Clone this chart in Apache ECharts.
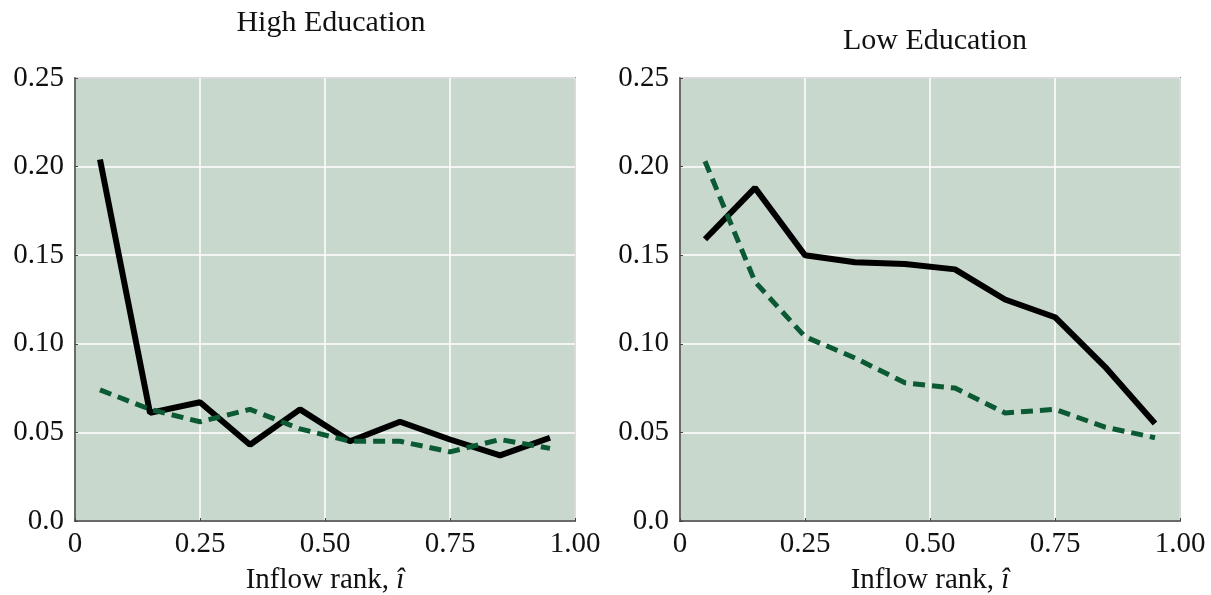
<!DOCTYPE html>
<html><head><meta charset="utf-8">
<script src="https://cdn.jsdelivr.net/npm/echarts@6/dist/echarts.min.js"></script>
<style>html,body{margin:0;padding:0;background:#fff}#c{width:1211px;height:595px}</style>
</head><body><div id="c"></div>
<script>
const ranks = [0.05,0.15,0.25,0.35,0.45,0.55,0.65,0.75,0.85,0.95];
const highSolid = [0.204,0.061,0.067,0.043,0.063,0.045,0.056,0.046,0.037,0.047];
const highDashed = [0.074,0.063,0.056,0.063,0.052,0.045,0.045,0.039,0.046,0.041];
const lowSolid = [0.159,0.188,0.150,0.146,0.145,0.142,0.125,0.115,0.087,0.055];
const lowDashed = [0.203,0.135,0.104,0.092,0.078,0.075,0.061,0.063,0.053,0.047];
const panelTitles = ['High Education','Low Education'];
const xTicks = [0,0.25,0.5,0.75,1];
const yTicks = [0,0.05,0.1,0.15,0.2,0.25];

const FONT = '"Liberation Serif", "DejaVu Serif", serif';
const pair = (xs, ys) => xs.map((x,i)=>[x, ys[i]]);
const xAxisCfg = (gi) => ({
  type:'value', gridIndex:gi, min:0, max:1, interval:0.25,
  axisLine:{show:true, lineStyle:{color:'#444', width:1.5}},
  axisTick:{show:true, inside:true, length:3, lineStyle:{color:'#444'}},
  splitLine:{show:true, lineStyle:{color:'#ffffff', width:1.5}},
  axisLabel:{color:'#111', fontFamily:FONT, fontSize:29, margin:9,
    formatter:v=> v===0 ? '0' : v.toFixed(2)},
  name:'{a|Inflow rank, }{b|î}', nameLocation:'middle', nameGap:45,
  nameTextStyle:{rich:{a:{fontFamily:FONT, fontSize:29, color:'#111'}, b:{fontFamily:FONT, fontSize:29, fontStyle:'italic', color:'#111'}}}
});
const yAxisCfg = (gi) => ({
  type:'value', gridIndex:gi, min:0, max:0.25, interval:0.05,
  axisLine:{show:true, lineStyle:{color:'#444', width:1.5}},
  axisTick:{show:true, inside:true, length:3, lineStyle:{color:'#444'}},
  splitLine:{show:true, lineStyle:{color:'#ffffff', width:1.5}},
  axisLabel:{color:'#111', fontFamily:FONT, fontSize:29, margin:11,
    formatter:v=> v===0 ? '0.0' : v.toFixed(2)}
});
const solid = (gi, data) => ({type:'line', xAxisIndex:gi, yAxisIndex:gi, data, symbol:'none',
  lineStyle:{color:'#000', width:6, type:'solid'}, z:3});
const dashed = (gi, data) => ({type:'line', xAxisIndex:gi, yAxisIndex:gi, data, symbol:'none',
  lineStyle:{color:'#0b5a34', width:5, type:[12,7]}, z:4});

const chart = echarts.init(document.getElementById('c'), null, {renderer:'canvas'});
chart.setOption({
  animation:false,
  title:[
    {text:panelTitles[0], left:326, top:3, textAlign:'center', textStyle:{fontFamily:FONT, fontSize:30, fontWeight:'normal', color:'#111'}},
    {text:panelTitles[1], left:930, top:21, textAlign:'center', textStyle:{fontFamily:FONT, fontSize:30, fontWeight:'normal', color:'#111'}}
  ],
  grid:[
    {left:75, right:636, top:78, bottom:74, outerBoundsMode:'none', containLabel:false, show:true, backgroundColor:'#c9d8cd', borderColor:'#444', borderWidth:1.5},
    {left:680, right:31, top:78, bottom:74, outerBoundsMode:'none', containLabel:false, show:true, backgroundColor:'#c9d8cd', borderColor:'#444', borderWidth:1.5}
  ],
  xAxis:[xAxisCfg(0), xAxisCfg(1)],
  yAxis:[yAxisCfg(0), yAxisCfg(1)],
  series:[
    solid(0, pair(ranks, highSolid)), dashed(0, pair(ranks, highDashed)),
    solid(1, pair(ranks, lowSolid)), dashed(1, pair(ranks, lowDashed))
  ]
});
</script></body></html>
